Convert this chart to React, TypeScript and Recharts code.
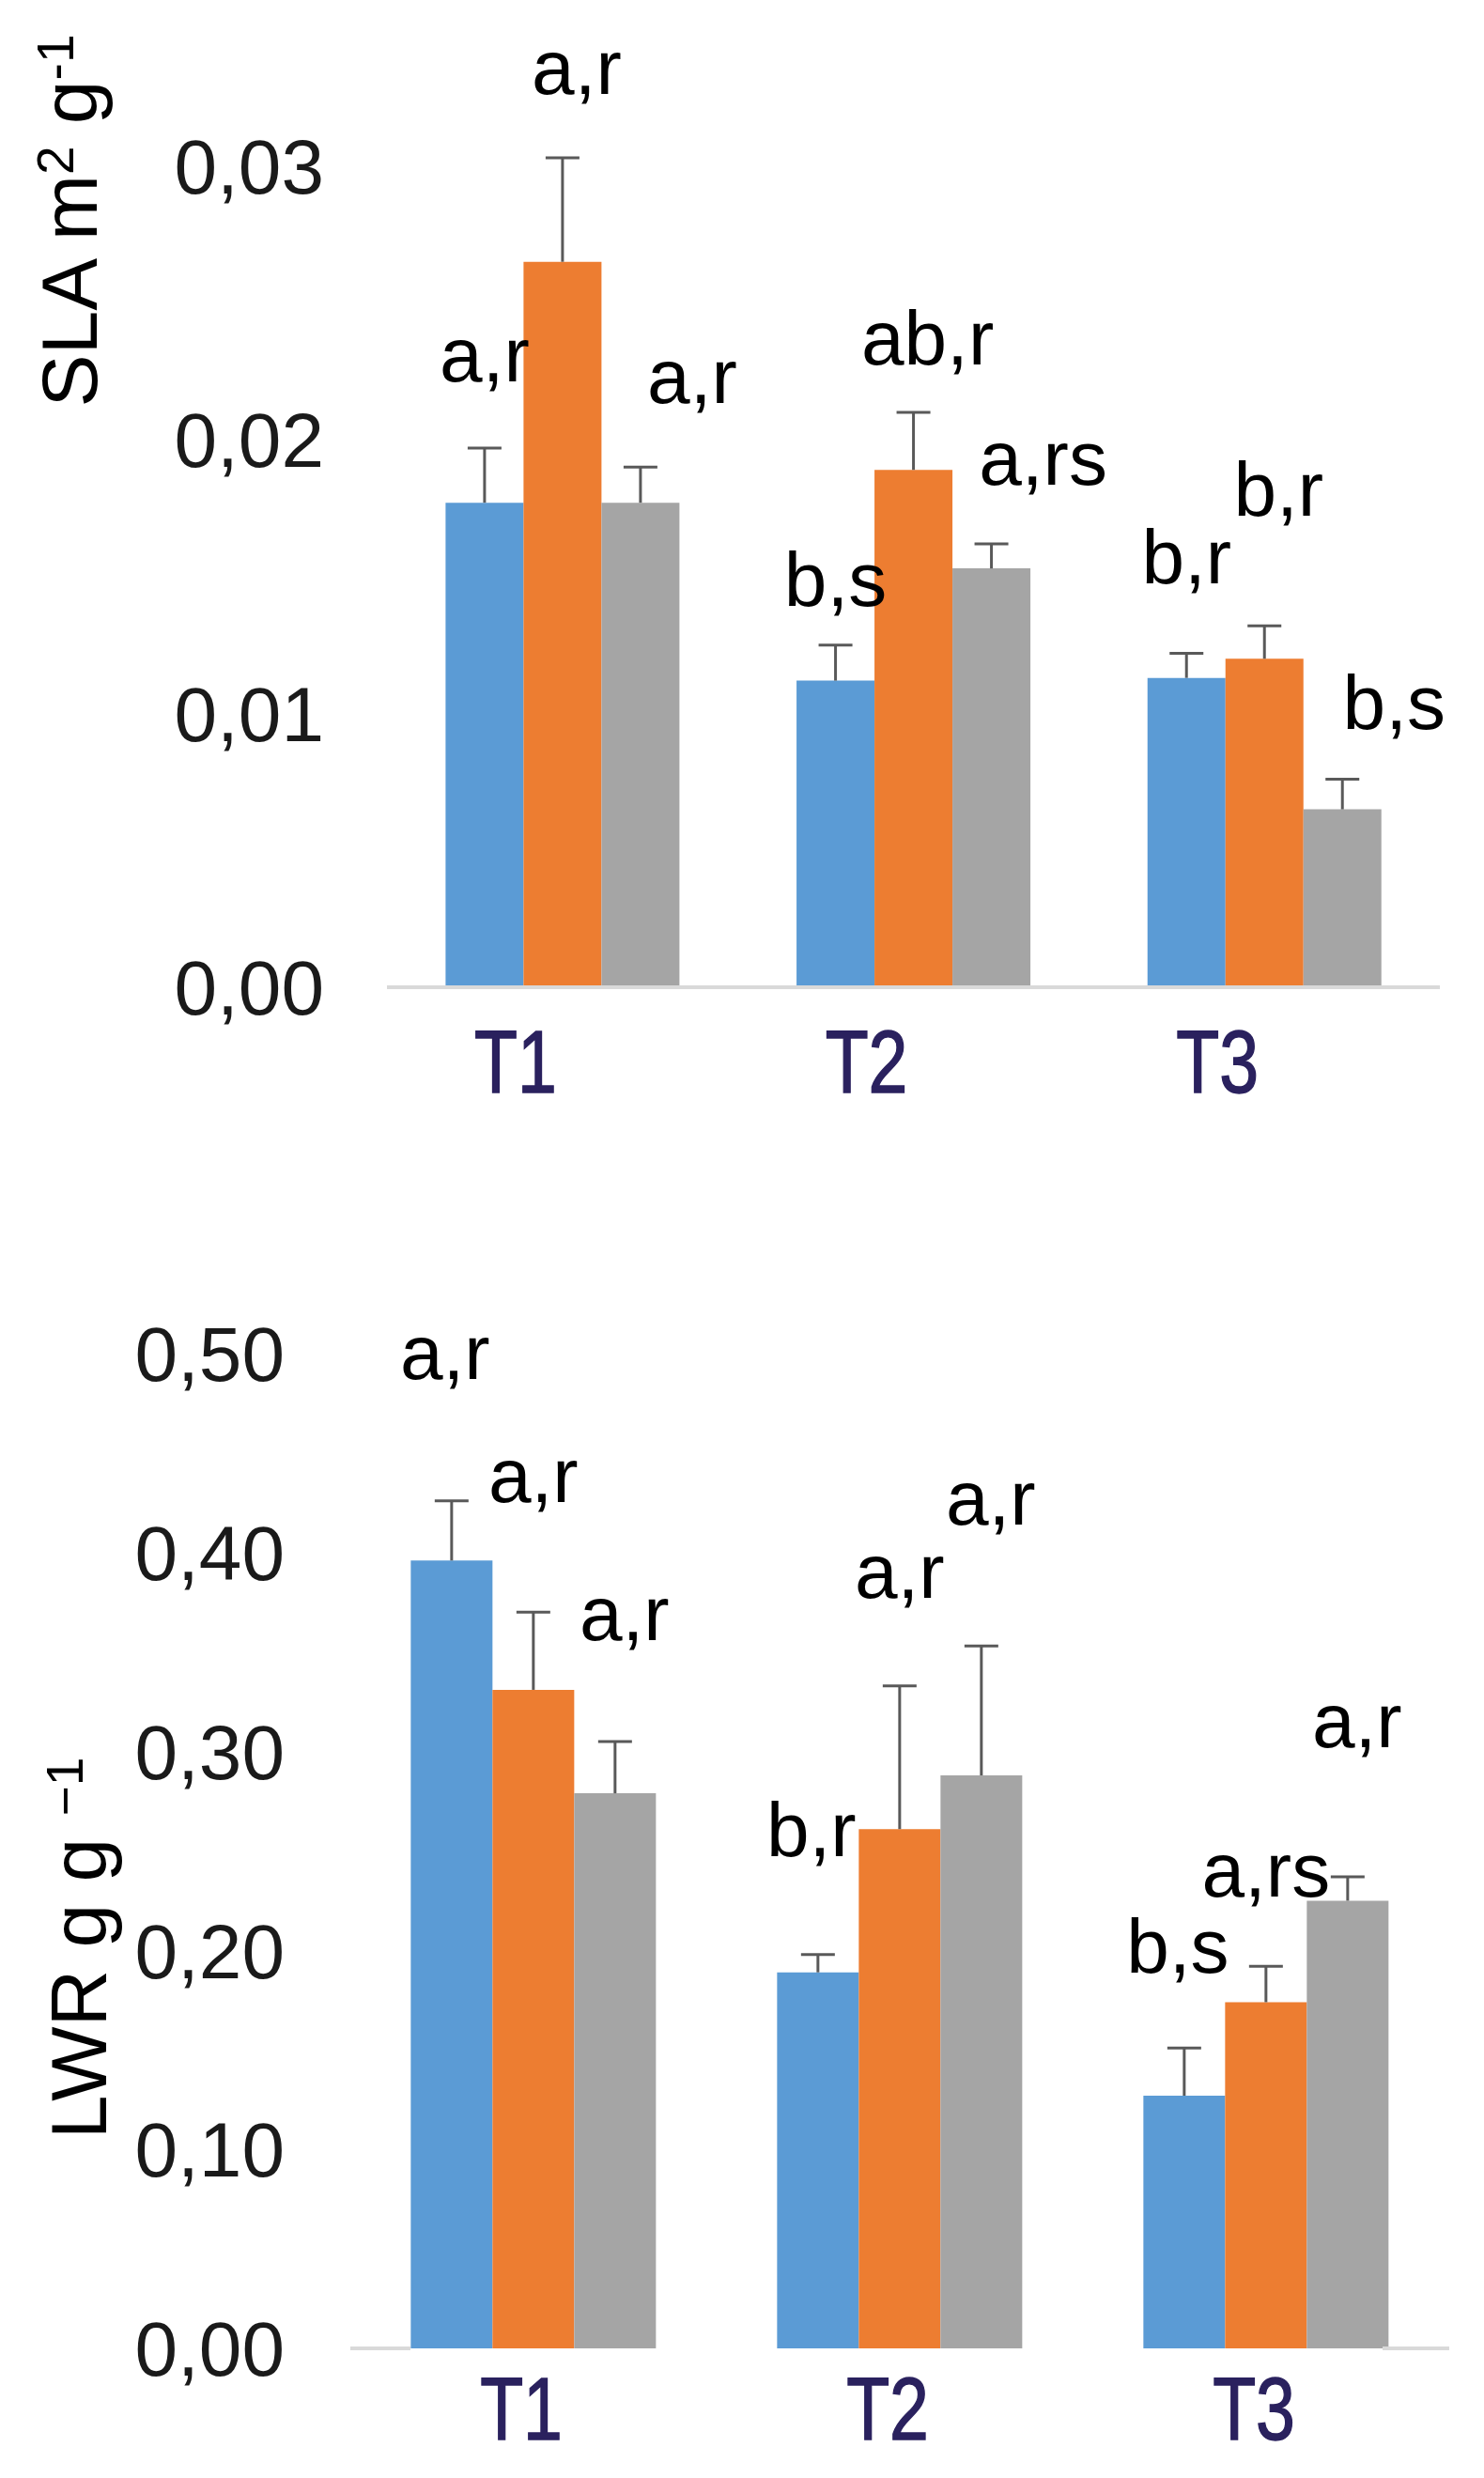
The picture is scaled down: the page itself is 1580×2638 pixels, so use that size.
import React from 'react'
import { BarChart, Bar, XAxis, YAxis, LabelList } from 'recharts'

const categories = ['T1', 'T2', 'T3']

// SLA, m2 g-1
const slaTicks = [0, 0.01, 0.02, 0.03]
const slaBlue = [0.0177, 0.0112, 0.0113]
const slaOrange = [0.0265, 0.0189, 0.012]
const slaGray = [0.0177, 0.0153, 0.0065]
const slaBlueErr = [0.002, 0.0013, 0.0009]
const slaOrangeErr = [0.0038, 0.0021, 0.0012]
const slaGrayErr = [0.0013, 0.0009, 0.0011]
const slaBlueTags = ['a,r', 'b,s', 'b,r']
const slaOrangeTags = ['a,r', 'ab,r', 'b,r']
const slaGrayTags = ['a,r', 'a,rs', 'b,s']
// height (in SLA units) at which each letter group is written
const slaBlueTagAt = [0.023, 0.0148, 0.0156]
const slaOrangeTagAt = [0.0335, 0.0236, 0.0181]
const slaGrayTagAt = [0.0222, 0.0192, 0.0103]

// LWR, g g-1
const lwrTicks = [0, 0.1, 0.2, 0.3, 0.4, 0.5]
const lwrBlue = [0.396, 0.189, 0.127]
const lwrOrange = [0.331, 0.261, 0.174]
const lwrGray = [0.279, 0.288, 0.225]
const lwrBlueErr = [0.03, 0.009, 0.024]
const lwrOrangeErr = [0.039, 0.072, 0.018]
const lwrGrayErr = [0.026, 0.065, 0.012]
const lwrBlueTags = ['a,r', 'b,r', 'b,s']
const lwrOrangeTags = ['a,r', 'a,r', 'a,rs']
const lwrGrayTags = ['a,r', 'a,r', 'a,r']
const lwrBlueTagAt = [0.499, 0.259, 0.2005]
const lwrOrangeTagAt = [0.437, 0.389, 0.239]
const lwrGrayTagAt = [0.368, 0.426, 0.314]

const FONT = '"Liberation Sans", Arial, sans-serif'
const BLUE = '#5B9BD5'
const ORANGE = '#ED7D31'
const GRAY = '#A5A5A5'
const WHISKER = '#595959'

type Series = { val: number[]; err: number[]; tag: string[]; at: number[] }

function buildRows(blue: Series, orange: Series, gray: Series) {
  const part = (s: Series, key: string, i: number) => ({
    [key]: s.val[i],
    [key + 'Err']: s.err[i],
    [key + 'Lift']: Math.max(0, s.at[i] - s.val[i] - s.err[i]),
    [key + 'Tag']: s.tag[i],
  })
  return categories.map((name, i) => ({
    name,
    ...part(blue, 'blue', i),
    ...part(orange, 'orange', i),
    ...part(gray, 'gray', i),
  }))
}

const slaRows = buildRows(
  { val: slaBlue, err: slaBlueErr, tag: slaBlueTags, at: slaBlueTagAt },
  { val: slaOrange, err: slaOrangeErr, tag: slaOrangeTags, at: slaOrangeTagAt },
  { val: slaGray, err: slaGrayErr, tag: slaGrayTags, at: slaGrayTagAt },
)
const lwrRows = buildRows(
  { val: lwrBlue, err: lwrBlueErr, tag: lwrBlueTags, at: lwrBlueTagAt },
  { val: lwrOrange, err: lwrOrangeErr, tag: lwrOrangeTags, at: lwrOrangeTagAt },
  { val: lwrGray, err: lwrGrayErr, tag: lwrGrayTags, at: lwrGrayTagAt },
)

const fmt = (v: number) => v.toFixed(2).replace('.', ',')

// upward-only error bar: stem from the bar top plus a cap
const Whisker = (props: any) => {
  const { x, y, width, height } = props
  const cx = x + width / 2
  return (
    <g>
      <line x1={cx} x2={cx} y1={y + height} y2={y} stroke={WHISKER} strokeWidth={3} />
      <line x1={cx - 18} x2={cx + 18} y1={y} y2={y} stroke={WHISKER} strokeWidth={3} />
    </g>
  )
}

const Nothing = () => <g />

const tagContent = (shift: number) => (props: any) => {
  const { x, y, width, value } = props
  return (
    <text x={x + width / 2 + shift} y={y + 25} textAnchor="middle" fontSize={82} fontFamily={FONT} fill="#000">
      {value}
    </text>
  )
}

const categoryTick = (shift: number, drop: number) => (props: any) => {
  const { x, y, payload } = props
  return (
    <g transform={`translate(${x + shift},${y + drop})`}>
      <text x={0} y={0} textAnchor="middle" fontSize={94} fontFamily={FONT} fill="#2A215E"
        stroke="#2A215E" strokeWidth={1.5} transform="scale(0.8,1)">
        {payload.value}
      </text>
    </g>
  )
}

function seriesBars(key: string, color: string, tagShift: number) {
  return [
    <Bar key={key} dataKey={key} stackId={key} fill={color} isAnimationActive={false} />,
    <Bar key={key + 'Err'} dataKey={key + 'Err'} stackId={key} shape={Whisker} isAnimationActive={false} />,
    <Bar key={key + 'Lift'} dataKey={key + 'Lift'} stackId={key} shape={Nothing} isAnimationActive={false}>
      <LabelList dataKey={key + 'Tag'} content={tagContent(tagShift)} />
    </Bar>,
  ]
}

export default function App() {
  return (
    <div style={{ position: 'absolute', left: 0, top: 0, width: 1580, height: 2638, background: '#fff' }}>
      <div style={{ position: 'absolute', left: 0, top: 0 }}>
        <BarChart width={1580} height={1200} data={slaRows} margin={{ top: 31, right: 47, left: 0, bottom: 0 }} barCategoryGap="16.7%" barGap={0}>
          <XAxis dataKey="name" height={149} tickLine={false} tickSize={0} tickMargin={0}
            axisLine={{ stroke: '#D9D9D9', strokeWidth: 4 }} tick={categoryTick(-50, 112)} />
          <YAxis type="number" domain={[0, 0.035]} ticks={slaTicks} width={412} tickFormatter={fmt}
            axisLine={false} tickLine={false} tickSize={0} tickMargin={67}
            tick={{ fontSize: 82, fill: '#1A1A1A', fontFamily: FONT }}
            label={{
              content: (p: any) => {
                const vb = p.viewBox
                const x = vb.x + 103
                const y = vb.y + 204
                return (
                  <text transform={`translate(${x},${y}) rotate(-90)`} x={0} y={0} textAnchor="middle" fontSize={84} fontFamily={FONT} fill="#000">
                    SLA m<tspan dy={-25} fontSize={55}>2</tspan><tspan dy={25}> g</tspan><tspan dy={-25} fontSize={55}>-1</tspan>
                  </text>
                )
              },
            }} />
          {seriesBars('blue', BLUE, 0)}
          {seriesBars('orange', ORANGE, 15)}
          {seriesBars('gray', GRAY, 55)}
        </BarChart>
      </div>
      <div style={{ position: 'absolute', left: 0, top: 1300 }}>
        <BarChart width={1580} height={1338} data={lwrRows} margin={{ top: 141, right: 37, left: 0, bottom: 0 }} barCategoryGap="16.5%" barGap={0}>
          <XAxis dataKey="name" height={138} tickLine={false} tickSize={0} tickMargin={0}
            axisLine={{ stroke: '#D9D9D9', strokeWidth: 4, strokeDasharray: '64 1035 80' }} tick={categoryTick(-13, 97)} />
          <YAxis type="number" domain={[0, 0.5]} ticks={lwrTicks} width={373} tickFormatter={fmt}
            axisLine={false} tickLine={false} tickSize={0} tickMargin={70}
            tick={{ fontSize: 82, fill: '#1A1A1A', fontFamily: FONT }}
            label={{
              content: (p: any) => {
                const vb = p.viewBox
                const x = vb.x + 113
                const y = vb.y + 633
                return (
                  <text transform={`translate(${x},${y}) rotate(-90)`} x={0} y={0} textAnchor="middle" fontSize={84} fontFamily={FONT} fill="#000">
                    LWR g g <tspan dy={-25} fontSize={55}>−1</tspan>
                  </text>
                )
              },
            }} />
          {seriesBars('blue', BLUE, -7)}
          {seriesBars('orange', ORANGE, 0)}
          {seriesBars('gray', GRAY, 10)}
        </BarChart>
      </div>
    </div>
  )
}
